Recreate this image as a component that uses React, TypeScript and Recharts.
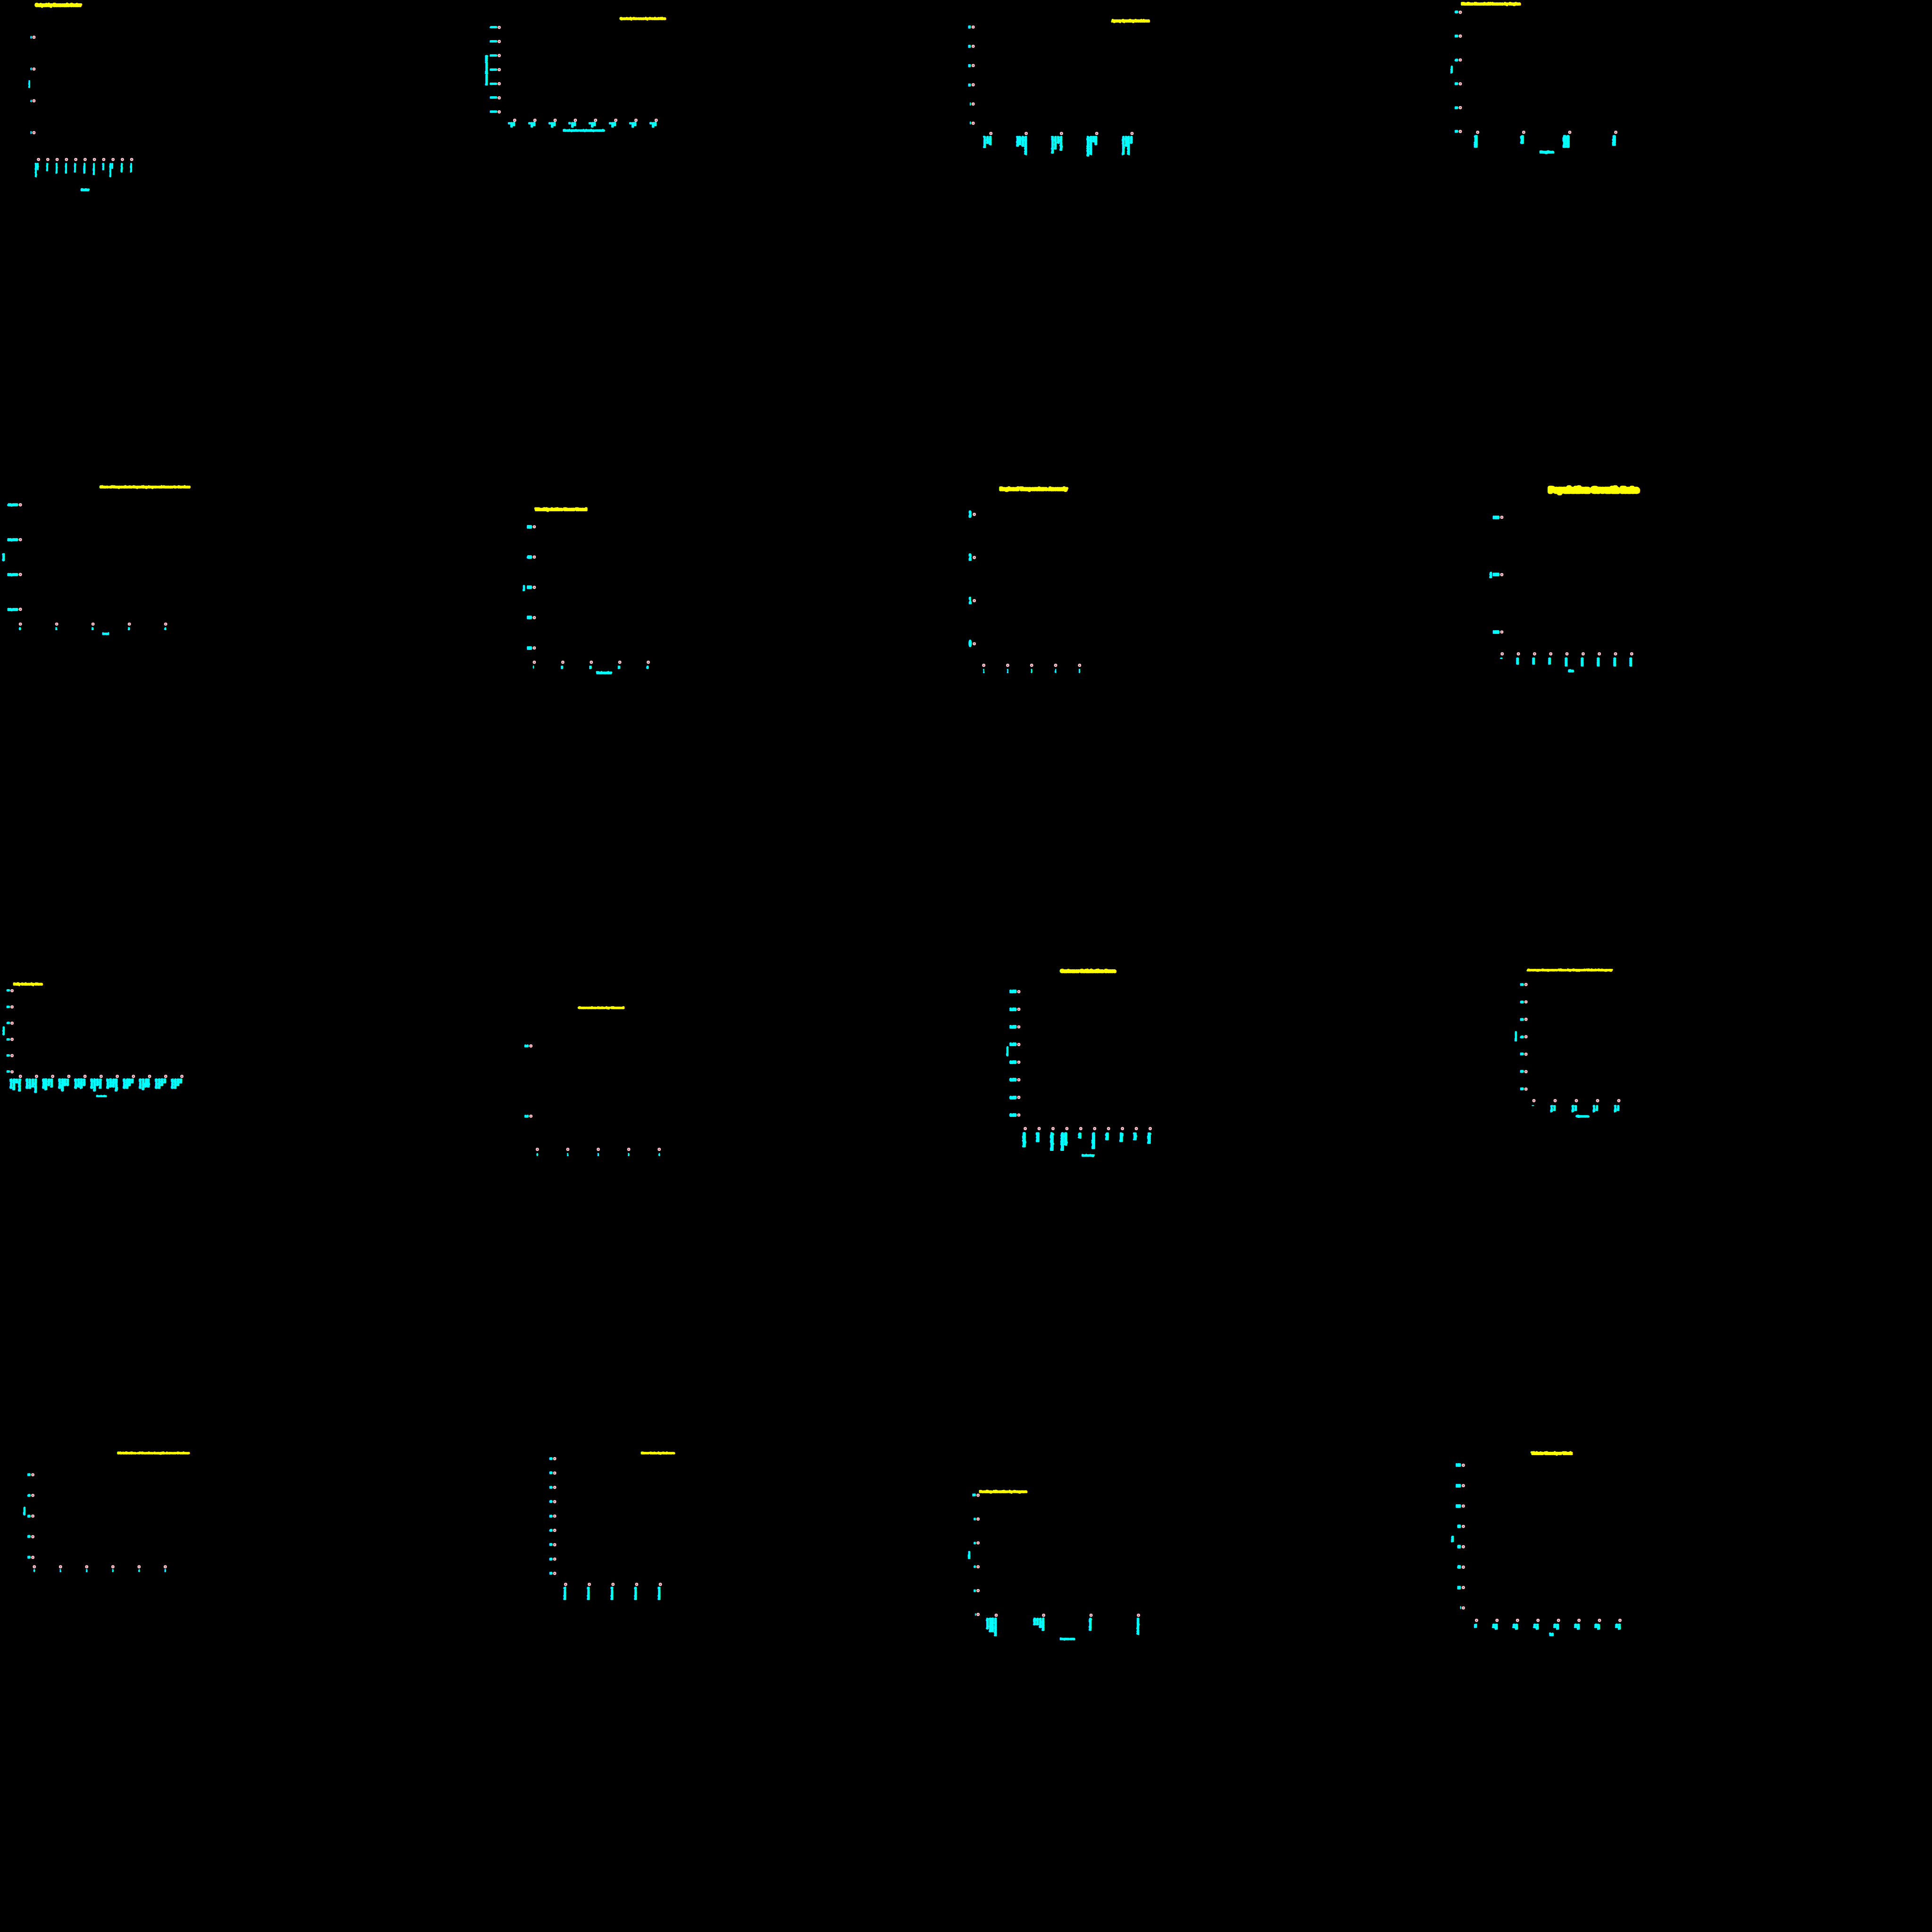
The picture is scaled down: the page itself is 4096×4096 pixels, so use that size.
import React from "react";
import { LineChart, XAxis, YAxis } from "recharts";

const CYAN = "#00ffff";
const YELLOW = "#ffff00";
const PINK = "#ffc0cb";
const R = 4.3;
const PADL = 80;
const PADB = 90;
const PADT = 5;
const PADR = 5;

const titles = [
  "Output by Economic Sector",
  "Quarterly Revenue by Product Line",
  "Agency Spending Breakdown",
  "Median Household Income by Region",
  "Share of Respondents Reporting Improved Access to Services",
  "Weekly Active Users Trend",
  "Regional Temperature Anomaly",
  "Population Growth Rate",
  "Daily Orders by Store",
  "Conversion Rate by Channel",
  "Customer Satisfaction Score",
  "Average Response Time by Support Ticket Category",
  "Distribution of Session Length Across Devices",
  "Error Rate by Release",
  "Funding Allocation by Program",
  "Tickets Closed per Week",
];

const yAxisNames = ["Index", "Revenue (thousand USD)", "", "Value", "Count", "Users", "", "Rate", "Orders", "", "Score", "Hours", "Share", "", "Millions", "Tickets"];
const xAxisNames = ["Sector", "Fiscal quarter and planning scenario", "", "Region", "Round", "Week number", "", "Size", "Store location", "", "Industry", "Queue", "", "", "Program area", "Week"];

// y tick labels, bottom to top
const p1Y = ["2", "4", "6", "8"];
const p2Y = ["1000", "1500", "2000", "2500", "3000", "3500", "4000"];
const p3Y = ["0", "5", "10", "15", "20", "25"];
const p4Y = ["10", "20", "30", "40", "50", "60"];
const p5Y = ["10,000", "20,000", "30,000", "40,000"];
const p6Y = ["100", "200", "300", "400", "500"];
const p7Y = ["0", "1", "2", "3"];
const p8Y = ["1000", "2000", "3000"];
const p9Y = ["10", "20", "30", "40", "50", "60"];
const p10Y = ["1.5", "3.0"];
const p11Y = ["0.00", "0.25", "0.50", "0.75", "1.00", "1.25", "1.50", "1.75"];
const p12Y = ["10", "20", "30", "40", "50", "60", "70"];
const p13Y = ["10", "20", "30", "40", "50"];
const p14Y = ["10", "20", "30", "40", "50", "60", "70", "80", "90"];
const p15Y = ["0", "20", "40", "60", "80", "100"];
const p16Y = ["0", "200", "400", "600", "800", "1000", "1200", "1400"];

// x tick labels, left to right
const p1X = ["Agricultural\noutput", "Housing", "Transport", "Education", "Forestry", "Utilities", "Healthcare", "Retail", "Construction\nworks", "Shipping", "Textiles"];
const p2X = ["Q1\n2020\nEst", "Q2\n2020\nEst", "Q3\n2020\nEst", "Q4\n2020\nEst", "Q1\n2021\nEst", "Q2\n2021\nEst", "Q3\n2021\nEst", "Q4\n2021\nEst"];
const p3X = [
  "Bureau of\nIndian\nAffairs",
  "National\nNuclear\nSecurity\nAdministration",
  "Environmental\nProtection\nAgency\nRegion Five",
  "Social Security\nAdministration\nField\nOffices",
  "Transportation\nSecurity\nAdministration\nGrants",
];
const p4X = ["Midwest", "South", "Pacific\nIslands", "Plains"];
const p5X = ["0", "1", "2", "3", "4"];
const p6X = ["0", "10", "20", "30", "40"];
const p7X = ["1", "2", "3", "4", "5"];
const p8X = ["0", "2500", "5000", "7500", "10000", "12500", "15000", "17500", "20000"];
const p9X = [
  "Store 01\nRiverside\nMall\nNorth Wing",
  "Store 02\nLakeview\nCommons\nSouth Plaza",
  "Store 03\nWestfield\nCentre\nLevel 2",
  "Store 04\nOld Market\nSquare\nGround",
  "Store 05\nAirport\nTerminal\nGate B",
  "Store 06\nUniversity\nCampus\nBookshop",
  "Store 07\nCentral\nStation\nUpper Hall",
  "Store 08\nHillside\nRetail\nPark",
  "Store 09\nGreenwood\nVillage\nHigh St",
  "Store 10\nBayfront\nOutlet\nEast",
  "Store 11\nParkside\nMarket\nHall",
];
const p10X = ["0", "1", "2", "3", "4"];
const p11X = ["Logistics", "Retail", "Hospitality", "Real Estate\nAgencies", "Auto", "Healthcare", "Media", "Energy", "Legal", "Banking"];
const p12X = ["0", "Tier 1\nEmail", "Tier 2\nEmail", "Tier 3\nPhone", "Tier 4\nPhone"];
const p13X = ["0", "1", "2", "3", "4", "5"];
const p14X = ["Release A", "Release B", "Release C", "Release D", "Release E"];
const p15X = [
  "Community\nDevelopment\nBlock Grant\nInfrastructure",
  "Public\nHealth\nOutreach\nInitiative",
  "Fellowship",
  "Arts Programs",
];
const p16X = ["Wk1", "Jan\nWk 2", "Jan\nWk 3", "Jan\nWk 4", "Feb\nWk 5", "Feb\nWk 6", "Feb\nWk 7", "Feb\nWk 8"];

// layout, in reference pixels (the whole page is scaled by 0.8)
const PANELS = [
  { yTicks: p1Y, xTicks: p1X, yx: 90, yTop: 99, yStep: 84.3, xy: 423, x0: 102, xStep: 24.7,
    yl: { h: 7, c: 5 }, xl: { mode: "v", t: 5, c: 3.2, gap: 9, dx: 1 },
    title: [91, 218, 13.5, 11], yName: [78, 213, 233, 4.5], xName: [213, 238, 502, 8] },
  { yTicks: p2Y, xTicks: p2X, yx: 1323, yTop: 73, yStep: 37.33, xy: 319, x0: 1364, xStep: 53.57,
    yl: { h: 6, c: 5 }, xl: { mode: "v", t: 6.3, c: 4, gap: 4, dx: 1 },
    title: [1641, 1766, 49, 8], yName: [1290, 145, 227, 7], xName: [1491, 1604, 346, 7] },
  { yTicks: p3Y, xTicks: p3X, yx: 2579, yTop: 72, yStep: 51, xy: 354, x0: 2626, xStep: 93.5,
    yl: { h: 8, c: 4.6 }, xl: { mode: "v", t: 7.2, c: 3.7, gap: 6, dx: 2 },
    title: [2944, 3048, 55.5, 9], yName: null, xName: null },
  { yTicks: p4Y, xTicks: p4X, yx: 3870, yTop: 32, yStep: 63.2, xy: 350, x0: 3916, xStep: 122,
    yl: { h: 7, c: 5.3 }, xl: { mode: "v", t: 9.5, c: 5, gap: 7, dx: 0 },
    title: [3871, 4031, 10.5, 9], yName: [3848, 174, 195, 6], xName: [4080, 4119, 402, 8] },
  { yTicks: p5Y, xTicks: p5X, yx: 54, yTop: 1338, yStep: 92.3, xy: 1654, x0: 54, xStep: 96.25,
    yl: { h: 8, c: 5 }, xl: { mode: "h", h: 8, c: 7, gap: 8, dx: -1 },
    title: [263, 505, 1290, 8], yName: [10, 1466, 1488, 7], xName: [270, 290, 1679.5, 7] },
  { yTicks: p6Y, xTicks: p6X, yx: 1416, yTop: 1396, yStep: 80.25, xy: 1755, x0: 1416, xStep: 75.5,
    yl: { h: 9, c: 5.3 }, xl: { mode: "h", h: 9, c: 4.5, gap: 9, dx: -2 },
    title: [1416, 1557, 1349, 10], yName: [1389, 1550, 1567, 6], xName: [1579, 1623, 1783, 8] },
  { yTicks: p7Y, xTicks: p7X, yx: 2582, yTop: 1363, yStep: 114.3, xy: 1763, x0: 2607, xStep: 63.5,
    yl: { h: 19, c: 12 }, xl: { mode: "h", h: 10, c: 6, gap: 10, dx: 0 },
    title: [2647, 2831, 1295, 12], yName: null, xName: null },
  { yTicks: p8Y, xTicks: p8X, yx: 3980, yTop: 1371, yStep: 152, xy: 1733, x0: 3981, xStep: 42.9,
    yl: { h: 9, c: 5 }, xl: { mode: "v", t: 7, c: 5, gap: 9, dx: 1 },
    title: [4100, 4347, 1297.5, 21], yName: [3951, 1515, 1533, 7], xName: [4155, 4172, 1777, 8] },
  { yTicks: p9Y, xTicks: p9X, yx: 32, yTop: 2625, yStep: 43, xy: 2852, x0: 54, xStep: 42.8,
    yl: { h: 6, c: 5 }, xl: { mode: "v", t: 7.3, c: 3.6, gap: 5, dx: 1 },
    title: [34, 114, 2607, 8], yName: [10, 2720, 2744, 6], xName: [254, 284, 2905, 6] },
  { yTicks: p10Y, xTicks: p10X, yx: 1407, yTop: 2772, yStep: 186, xy: 3046, x0: 1424, xStep: 80.75,
    yl: { h: 7, c: 4.3 }, xl: { mode: "h", h: 8, c: 6, gap: 9, dx: 0 },
    title: [1531, 1655, 2671, 7], yName: null, xName: null },
  { yTicks: p11Y, xTicks: p11X, yx: 2700, yTop: 2628, yStep: 46.7, xy: 2991, x0: 2717, xStep: 36.8,
    yl: { h: 9, c: 5.2 }, xl: { mode: "v", t: 9, c: 4.6, gap: 9, dx: 1 },
    title: [2808, 2959, 2573.5, 11], yName: [2670, 2773, 2799, 6], xName: [2866, 2901, 3062, 7] },
  { yTicks: p12Y, xTicks: p12X, yx: 4044, yTop: 2609, yStep: 46.2, xy: 2917, x0: 4065, xStep: 56.25,
    yl: { h: 7, c: 5.5 }, xl: { mode: "v", t: 6.5, c: 3.4, gap: 11, dx: 1 },
    title: [4046, 4274, 2570, 7], yName: [4018, 2733, 2760, 6], xName: [4176, 4212, 2958, 7] },
  { yTicks: p13Y, xTicks: p13X, yx: 87, yTop: 3908, yStep: 54.75, xy: 4152, x0: 91, xStep: 69.4,
    yl: { h: 7, c: 5 }, xl: { mode: "h", h: 8, c: 6, gap: 6, dx: 0 },
    title: [310, 503, 3850, 7], yName: [65, 3993, 4016, 6], xName: null },
  { yTicks: p14Y, xTicks: p14X, yx: 1470, yTop: 3866, yStep: 38, xy: 4199, x0: 1499, xStep: 62.75,
    yl: { h: 7, c: 5 }, xl: { mode: "v", t: 7, c: 4, gap: 6, dx: 1 },
    title: [1698, 1789, 3850, 7], yName: null, xName: null },
  { yTicks: p15Y, xTicks: p15X, yx: 2592, yTop: 3962, yStep: 63.2, xy: 4280, x0: 2640, xStep: 125.7,
    yl: { h: 7, c: 3.7 }, xl: { mode: "v", t: 7.2, c: 3.6, gap: 6, dx: 2 },
    title: [2594, 2723, 3953, 8], yName: [2569, 4110, 4132, 6], xName: [2808, 2850, 4343.5, 7] },
  { yTicks: p16Y, xTicks: p16X, yx: 3878, yTop: 3883, yStep: 54, xy: 4294, x0: 3913, xStep: 54.3,
    yl: { h: 9, c: 4.1 }, xl: { mode: "v", t: 7.5, c: 4.4, gap: 8, dx: 2 },
    title: [4056, 4168, 3851.5, 9.5], yName: [3850, 4069, 4088, 7], xName: [4104, 4119, 4331.5, 9] },
];

const range = (n: number) => Array.from({ length: n }, (_, k) => k);

// heavily stroked text, so it reads as the solid blocks of the reference
function Blob({ cx, cy, w, h, text, color, vertical }: any) {
  const sw = Math.min(h * 0.5, w * 0.4);
  const fs = Math.min(Math.max(h * 0.78, (h - sw) / 0.72), h * 1.05);
  const len = Math.max(w - sw, 1);
  return (
    <text
      x={cx}
      y={cy}
      fill={color}
      stroke={color}
      strokeWidth={sw}
      strokeLinejoin="round"
      strokeLinecap="round"
      fontFamily="DejaVu Sans, sans-serif"
      fontWeight="bold"
      fontSize={fs}
      textAnchor="middle"
      dominantBaseline="central"
      textLength={len}
      lengthAdjust="spacingAndGlyphs"
      transform={vertical ? `rotate(-90 ${cx} ${cy})` : undefined}
    >
      {text}
    </text>
  );
}

function Dot({ x, y }: { x: number; y: number }) {
  return (
    <g>
      <circle cx={x} cy={y} r={R} fill={PINK} />
      <circle cx={x} cy={y} r={1.1} fill="#222" />
    </g>
  );
}

function XTick({ x, y, payload, labels, spec }: any) {
  const label = String(labels[payload.value] ?? "");
  let body: any;
  if (spec.mode === "h") {
    body = (
      <Blob cx={x + spec.dx} cy={y + spec.gap + spec.h / 2} w={label.length * spec.c} h={spec.h} text={label} color={CYAN} />
    );
  } else {
    const lines = label.split("\n");
    const right = x + spec.dx;
    const left = right - lines.length * spec.t;
    const top = y + spec.gap;
    body = lines.map((ln, i) => {
      const L = ln.length * spec.c;
      return (
        <Blob key={i} cx={left + spec.t * (i + 0.5)} cy={top + L / 2} w={L} h={spec.t} text={ln} color={CYAN} vertical />
      );
    });
  }
  return (
    <g>
      {body}
      <Dot x={x} y={y} />
    </g>
  );
}

function YTick({ x, y, payload, labels, spec }: any) {
  const label = String(labels[payload.value] ?? "");
  const w = label.length * spec.c;
  const right = x - 5;
  return (
    <g>
      <Blob cx={right - w / 2} cy={y} w={w} h={spec.h} text={label} color={CYAN} />
      <Dot x={x} y={y} />
    </g>
  );
}

function Panel({ p }: any) {
  const n = p.xTicks.length;
  const m = p.yTicks.length;
  const plotLeft = p.yx;
  const plotTop = p.yTop - 0.15 * p.yStep;
  const plotRight = p.x0 + (n - 0.5) * p.xStep;
  const plotBottom = p.xy;
  const yBottom = p.yTop + (m - 1) * p.yStep;
  const xlo = Math.min(0, -(p.x0 - p.yx) / p.xStep);
  const xhi = n - 0.5;
  const ylo = Math.min(0, -(p.xy - yBottom) / p.yStep);
  const yhi = m - 1 + 0.15;
  const rows = p.xTicks.map((label: string, k: number) => ({ x: k, label }));

  return (
    <div style={{ position: "absolute", left: plotLeft - PADL, top: plotTop - PADT }}>
      <LineChart
        width={plotRight - plotLeft + PADL + PADR}
        height={plotBottom - plotTop + PADT + PADB}
        data={rows}
        margin={{ top: PADT, right: PADR, bottom: 0, left: 0 }}
      >
        <XAxis
          type="number"
          dataKey="x"
          domain={[xlo, xhi]}
          ticks={range(n)}
          interval={0}
          allowDataOverflow
          axisLine={false}
          tickLine={false}
          tickSize={0}
          tickMargin={0}
          height={PADB}
          tick={(props: any) => <XTick {...props} labels={p.xTicks} spec={p.xl} />}
        />
        <YAxis
          type="number"
          domain={[ylo, yhi]}
          ticks={range(m)}
          interval={0}
          allowDataOverflow
          axisLine={false}
          tickLine={false}
          tickSize={0}
          tickMargin={0}
          width={PADL}
          tick={(props: any) => <YTick {...props} labels={p.yTicks} spec={p.yl} />}
        />
      </LineChart>
    </div>
  );
}

export default function App() {
  return (
    <div style={{ position: "fixed", left: 0, top: 0, width: 4096, height: 4096, background: "#000", overflow: "hidden" }}>
      <div style={{ position: "absolute", left: 0, top: 0, width: 5120, height: 5120, transform: "scale(0.8)", transformOrigin: "0 0" }}>
        {PANELS.map((p, i) => (
          <Panel key={i} p={p} />
        ))}
        <svg width={5120} height={5120} style={{ position: "absolute", left: 0, top: 0, pointerEvents: "none" }}>
          {PANELS.map((p, i) => (
            <g key={i}>
              <Blob cx={(p.title[0] + p.title[1]) / 2} cy={p.title[2]} w={p.title[1] - p.title[0]} h={p.title[3]} text={titles[i]} color={YELLOW} />
              {p.yName && (
                <Blob cx={p.yName[0]} cy={(p.yName[1] + p.yName[2]) / 2} w={p.yName[2] - p.yName[1]} h={p.yName[3]} text={yAxisNames[i]} color={CYAN} vertical />
              )}
              {p.xName && (
                <Blob cx={(p.xName[0] + p.xName[1]) / 2} cy={p.xName[2]} w={p.xName[1] - p.xName[0]} h={p.xName[3]} text={xAxisNames[i]} color={CYAN} />
              )}
            </g>
          ))}
        </svg>
      </div>
    </div>
  );
}
